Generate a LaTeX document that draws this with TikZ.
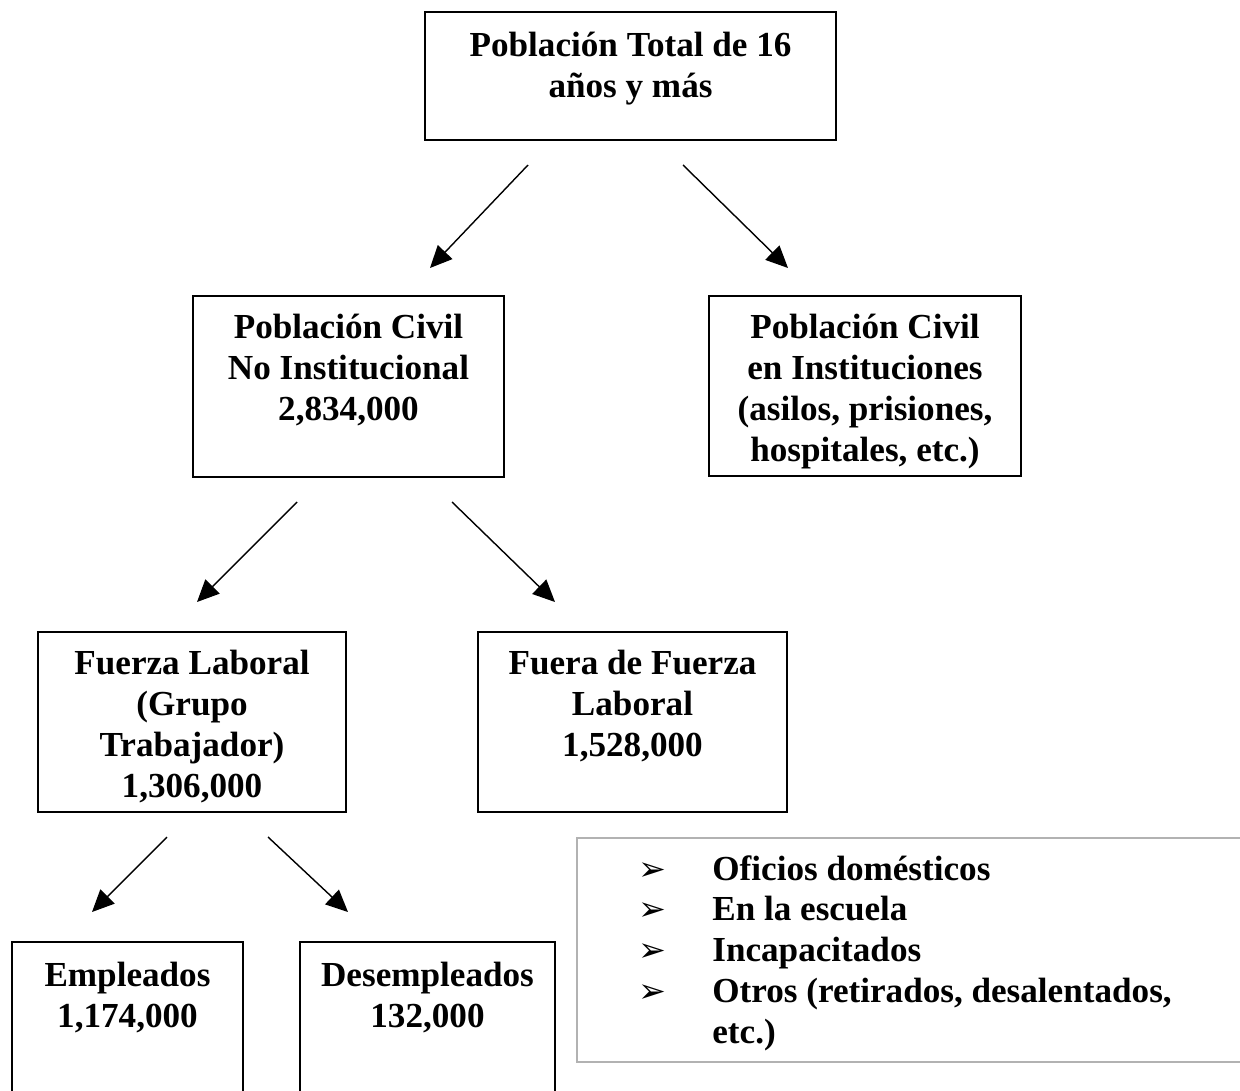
\documentclass[tikz,border=0pt]{standalone}
\usepackage{fontspec}
\setmainfont{Liberation Serif}
\newfontfamily\symfont{DejaVu Sans}
\usepackage{tikz}
\usetikzlibrary{arrows.meta,positioning}

\begin{document}
\begin{tikzpicture}[
    x=0.02cm, y=-0.02cm,
    box/.style={rectangle, draw=black, line width=1.1pt, inner sep=0pt},
    txt/.style={align=center, inner sep=0pt, font=\fontsize{20}{23.3}\selectfont\bfseries},
    arr/.style={-{Triangle[length=0.44cm, width=0.4cm]}, line width=0.8pt},
    note/.style={rectangle, draw=black!30, line width=0.8pt, inner sep=0pt}
]
    \useasboundingbox (0,0) rectangle (1240,1091);

    % boxes
    \node [box, minimum width=8.22cm, minimum height=2.56cm] (total) at (630.5,76) {};
    \node [box, minimum width=6.22cm, minimum height=3.62cm] (civil) at (348.5,386.5) {};
    \node [box, minimum width=6.24cm, minimum height=3.6cm] (inst) at (865,386) {};
    \node [box, minimum width=6.16cm, minimum height=3.6cm] (laboral) at (192,722) {};
    \node [box, minimum width=6.18cm, minimum height=3.6cm] (fuera) at (632.5,722) {};
    \node [box, minimum width=4.62cm, minimum height=3.16cm] (empl) at (127.5,1021) {};
    \node [box, minimum width=5.1cm, minimum height=3.16cm] (desempl) at (427.5,1021) {};
    \node [note, minimum width=13.66cm, minimum height=4.48cm] (otros) at (918.5,950) {};

    % texts
    \node [txt, below=0.42cm of total.north] (totalt) {Población Total de 16\\años y más};
    \node [txt, below=0.38cm of civil.north] (civilt) {Población Civil\\No Institucional\\2,834,000};
    \node [txt, below=0.38cm of inst.north] (instt) {Población Civil\\en Instituciones\\(asilos, prisiones,\\hospitales, etc.)};
    \node [txt, below=0.38cm of laboral.north] (laboralt) {Fuerza Laboral\\(Grupo\\Trabajador)\\1,306,000};
    \node [txt, below=0.38cm of fuera.north] (fuerat) {Fuera de Fuerza\\Laboral\\1,528,000};
    \node [txt, below=0.42cm of empl.north] (emplt) {Empleados\\1,174,000};
    \node [txt, below=0.42cm of desempl.north] (desemplt) {Desempleados\\132,000};
    \node [txt, align=left, anchor=north west] (lista) at (638,851) {%
        \begin{tabular}{@{}p{1.48cm}@{}l@{}}
        {\symfont\fontsize{19}{19}\selectfont ➢} & Oficios domésticos\\
        {\symfont\fontsize{19}{19}\selectfont ➢} & En la escuela\\
        {\symfont\fontsize{19}{19}\selectfont ➢} & Incapacitados\\
        {\symfont\fontsize{19}{19}\selectfont ➢} & Otros (retirados, desalentados,\\
        & etc.)
        \end{tabular}};

    % arrows
    \coordinate (t1) at (528,165);  \coordinate (t2) at (430,268);
    \coordinate (t3) at (683,165);  \coordinate (t4) at (788,268);
    \coordinate (c1) at (297,502);  \coordinate (c2) at (197,602);
    \coordinate (c3) at (452,502);  \coordinate (c4) at (555,602);
    \coordinate (f1) at (167,837);  \coordinate (f2) at (92,912);
    \coordinate (f3) at (268,837);  \coordinate (f4) at (348,912);

    \draw [arr] (t1) -- (t2);
    \draw [arr] (t3) -- (t4);
    \draw [arr] (c1) -- (c2);
    \draw [arr] (c3) -- (c4);
    \draw [arr] (f1) -- (f2);
    \draw [arr] (f3) -- (f4);
\end{tikzpicture}
\end{document}
